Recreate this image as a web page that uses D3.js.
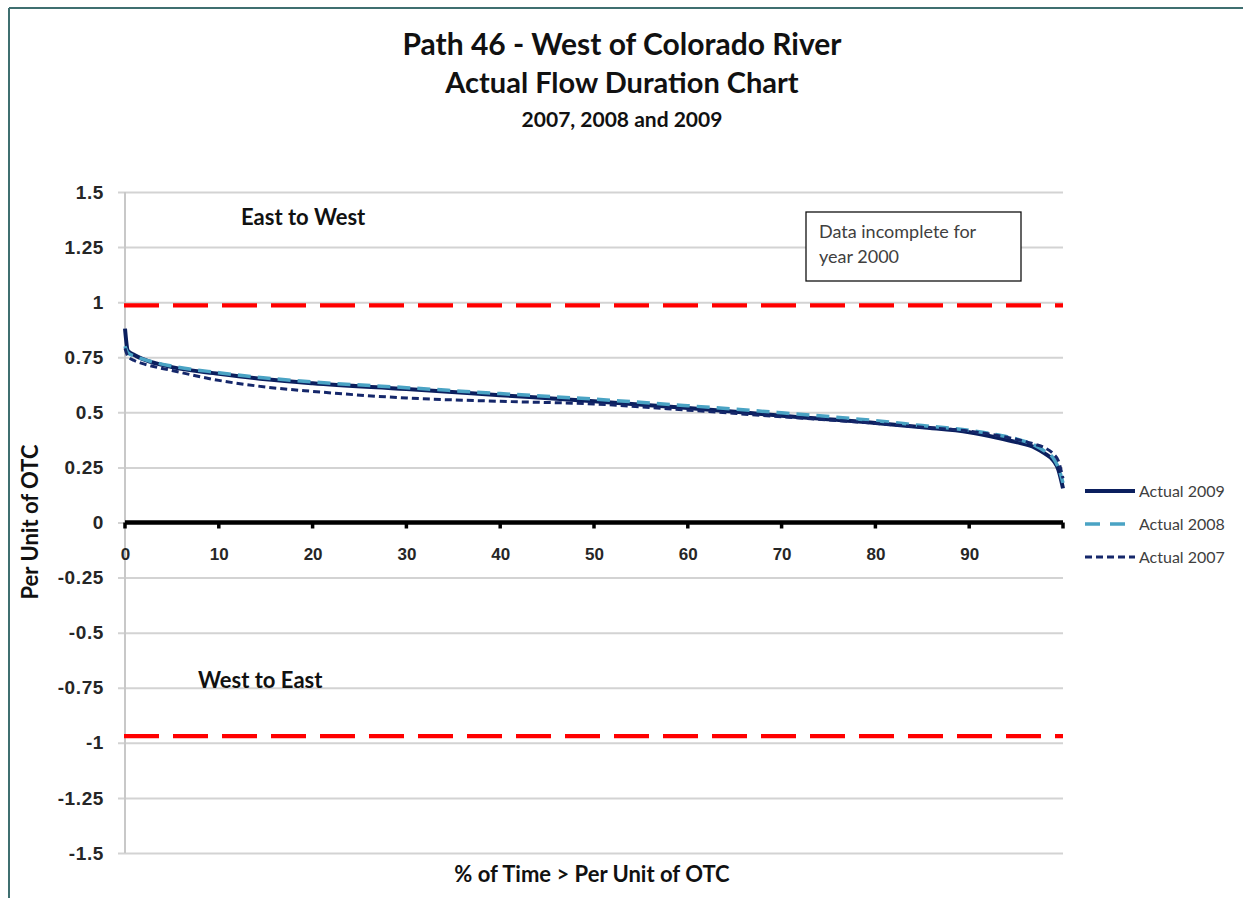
<!DOCTYPE html>
<html>
<head>
<meta charset="utf-8">
<script src="https://cdn.jsdelivr.net/npm/d3@7/dist/d3.min.js"></script>
<style>
  body { margin: 0; background: #fff; }
  svg { display: block; font-family: Lato, "Open Sans", sans-serif; }
  .grid line { stroke: #d3d3d3; stroke-width: 2; }
  .grid .domain { display: none; }
  .ylabels text { font-weight: bold; font-size: 19px; fill: #262626; letter-spacing: 0.6px; }
  .xlabels text { font-weight: bold; font-size: 17px; fill: #262626; }
</style>
</head>
<body>
<div id="graphic"></div>
<script>
// percent of time (x) for every series
const pct = [0, 0.3, 1, 2, 5, 10, 15, 20, 30, 40, 50, 60, 70, 80, 85, 90, 93, 95, 97, 98, 99, 99.5, 100];

// per unit of OTC
const actual2009 = [0.88, 0.78, 0.76, 0.74, 0.705, 0.675, 0.65, 0.632, 0.606, 0.578, 0.55, 0.52, 0.485, 0.452, 0.432, 0.41, 0.385, 0.365, 0.34, 0.315, 0.28, 0.24, 0.155];
const actual2008 = [0.80, 0.77, 0.755, 0.74, 0.71, 0.68, 0.656, 0.638, 0.612, 0.585, 0.56, 0.53, 0.498, 0.462, 0.44, 0.418, 0.398, 0.38, 0.35, 0.325, 0.29, 0.25, 0.18];
const actual2007 = [0.79, 0.755, 0.735, 0.72, 0.69, 0.645, 0.615, 0.595, 0.565, 0.55, 0.538, 0.51, 0.48, 0.45, 0.432, 0.415, 0.395, 0.378, 0.355, 0.34, 0.31, 0.28, 0.20];

const seriesNames = ["Actual 2009", "Actual 2008", "Actual 2007"];
const xTicks = [0, 10, 20, 30, 40, 50, 60, 70, 80, 90];
const yTicks = [1.5, 1.25, 1, 0.75, 0.5, 0.25, 0, -0.25, -0.5, -0.75, -1, -1.25, -1.5];
const limits = [0.985, -0.97]; // OTC limit lines (E->W, W->E)

const outerWidth = 1243, outerHeight = 898;
const margin = { left: 125, right: 180, top: 192, bottom: 45 };
const width = outerWidth - margin.left - margin.right;
const height = outerHeight - margin.top - margin.bottom;

const svg = d3.select("#graphic").append("svg")
  .attr("width", outerWidth)
  .attr("height", outerHeight);

// frame lines (top and left)
svg.append("line").attr("x1", 9).attr("x2", outerWidth).attr("y1", 8).attr("y2", 8)
  .attr("stroke", "#3f6f70").attr("stroke-width", 2);
svg.append("line").attr("x1", 9).attr("x2", 9).attr("y1", 8).attr("y2", outerHeight)
  .attr("stroke", "#3f6f70").attr("stroke-width", 2);

// titles
const titles = [
  { t: "Path 46 - West of Colorado River", y: 55, s: 30 },
  { t: "Actual Flow Duration Chart", y: 93, s: 29 },
  { t: "2007, 2008 and 2009", y: 127, s: 21 }
];
svg.selectAll("text.title").data(titles).enter().append("text")
  .attr("class", "title")
  .attr("x", 622).attr("y", d => d.y)
  .attr("text-anchor", "middle")
  .attr("font-weight", "bold")
  .attr("font-size", d => d.s)
  .attr("fill", "#111")
  .text(d => d.t);

const plot = svg.append("g")
  .attr("transform", `translate(${margin.left}, ${margin.top})`);

const xScale = d3.scaleLinear().domain([0, 100]).range([0, width]);
const yScale = d3.scaleLinear().domain([-1.5, 1.5]).range([height, 0]);

// horizontal grid + y labels
plot.append("g")
  .attr("class", "grid")
  .call(d3.axisLeft(yScale).tickValues(yTicks).tickSize(-width - 7).tickFormat(""))
  .attr("transform", "translate(-7,0)")
  .call(g => g.selectAll(".tick line").attr("x1", 0));

plot.append("g")
  .attr("class", "ylabels")
  .call(d3.axisLeft(yScale).tickValues(yTicks).tickSize(0).tickPadding(21).tickFormat(d => String(d)))
  .call(g => g.select(".domain").remove());

// y axis line
plot.append("line")
  .attr("x1", 0).attr("x2", 0).attr("y1", 0).attr("y2", height)
  .attr("stroke", "#c8c8c8").attr("stroke-width", 2);

// limit lines
plot.selectAll("line.limit").data(limits).enter().append("line")
  .attr("class", "limit")
  .attr("x1", -1).attr("x2", width)
  .attr("y1", d => yScale(d)).attr("y2", d => yScale(d))
  .attr("stroke", "#ff0000").attr("stroke-width", 4.2)
  .attr("stroke-dasharray", "35,14");

// zero axis with ticks
plot.append("g")
  .attr("class", "xlabels")
  .attr("transform", `translate(0, ${yScale(0)})`)
  .call(d3.axisBottom(xScale).tickValues(xTicks).tickSize(0).tickPadding(25).tickFormat(d3.format("d")))
  .call(g => g.select(".domain").remove());

plot.selectAll("line.xtick").data(xTicks.concat([100])).enter().append("line")
  .attr("class", "xtick")
  .attr("x1", d => xScale(d)).attr("x2", d => xScale(d))
  .attr("y1", yScale(0)).attr("y2", yScale(0) + 6)
  .attr("stroke", "#000").attr("stroke-width", 3.5);

plot.append("line")
  .attr("x1", xScale(0)).attr("x2", xScale(100))
  .attr("y1", yScale(0)).attr("y2", yScale(0))
  .attr("stroke", "#000").attr("stroke-width", 4.5);

// series
const styles = [
  { color: "#0b1f5e", dash: null, w: 4 },
  { color: "#4aa3c4", dash: "13,7", w: 3.5 },
  { color: "#15276a", dash: "7,4", w: 3 }
];
const series = [actual2009, actual2008, actual2007].map((vals, i) => ({
  name: seriesNames[i],
  style: styles[i],
  values: vals.map((v, j) => ({ x: pct[j], y: v }))
}));

const line = d3.line()
  .x(d => xScale(d.x))
  .y(d => yScale(d.y))
  .curve(d3.curveMonotoneX);

plot.selectAll("path.series").data(series).enter().append("path")
  .attr("class", "series")
  .attr("fill", "none")
  .attr("stroke", d => d.style.color)
  .attr("stroke-width", d => d.style.w)
  .attr("stroke-dasharray", d => d.style.dash)
  .attr("d", d => line(d.values));

// region labels
plot.append("text").attr("x", 116).attr("y", yScale(1.25) - 22)
  .attr("font-weight", "bold").attr("font-size", 22).attr("fill", "#111")
  .text("East to West");
plot.append("text").attr("x", 73).attr("y", yScale(-0.75))
  .attr("font-weight", "bold").attr("font-size", 22).attr("fill", "#111")
  .text("West to East");

// note box
const note = svg.append("g").attr("transform", "translate(806, 212)");
note.append("rect").attr("width", 215).attr("height", 69)
  .attr("fill", "#fff").attr("stroke", "#111").attr("stroke-width", 1.3);
note.selectAll("text").data(["Data incomplete for", "year 2000"]).enter().append("text")
  .attr("x", 13).attr("y", (d, i) => 26 + i * 25)
  .attr("font-size", 18).attr("fill", "#404040")
  .text(d => d);

// axis titles
svg.append("text")
  .attr("transform", "translate(38, 522) rotate(-90)")
  .attr("text-anchor", "middle")
  .attr("font-weight", "bold").attr("font-size", 22).attr("fill", "#111")
  .text("Per Unit of OTC");
svg.append("text")
  .attr("x", 592).attr("y", 882)
  .attr("text-anchor", "middle")
  .attr("font-weight", "bold").attr("font-size", 22).attr("fill", "#111")
  .text("% of Time > Per Unit of OTC");

// legend
const legend = svg.append("g").attr("transform", "translate(1085, 491)");
const item = legend.selectAll("g").data(series).enter().append("g")
  .attr("transform", (d, i) => `translate(0, ${i * 33})`);
item.append("line").attr("x1", 0).attr("x2", 50)
  .attr("stroke", d => d.style.color)
  .attr("stroke-width", d => d.style.w)
  .attr("stroke-dasharray", d => d.style.dash === "13,7" ? "15,10" : d.style.dash);
item.append("text").attr("x", 54).attr("y", 6)
  .attr("font-size", 16).attr("fill", "#404040")
  .text(d => d.name);
</script>
</body>
</html>
